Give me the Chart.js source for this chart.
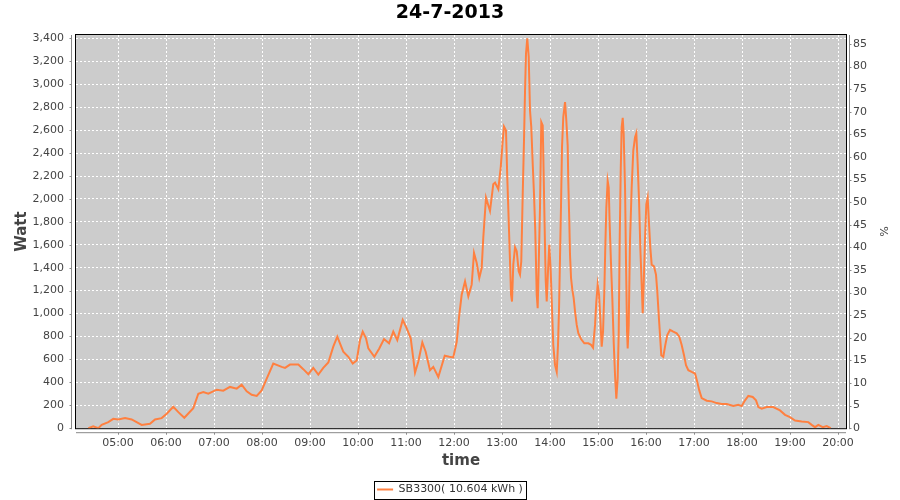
<!DOCTYPE html>
<html lang="en">
<head>
    <meta charset="UTF-8">
    <title>24-7-2013</title>
    <script src="https://cdn.jsdelivr.net/npm/chart.js"></script>
    <style>
        html, body {
            margin: 0;
            padding: 0;
            background: #ffffff;
        }
        #wrap {
            width: 900px;
            height: 500px;
        }
    </style>
</head>
<body>
    <div id="wrap">
        <canvas id="myChart" width="900" height="500"></canvas>
    </div>

    <script>
        // minutes since midnight
        const times = [
            262.9, 269.1, 275.4, 279.6, 287.9, 294.1, 300.4, 308.8, 317.1, 329.6,
            340, 346.3, 354.6, 360.9, 369.1, 375.4, 382.9, 394.1, 400.4, 406.6,
            412.9, 423.4, 431.6, 440, 448.4, 454.6, 460.9, 467.1, 473.4, 479.6,
            485.9, 494.1, 504.6, 508.8, 515, 525.4, 531.6, 537.9, 544.1, 550.4,
            556.6, 562.9, 569.1, 574.1, 581.6, 587.9, 593.4, 598.4, 602.5, 605.9,
            610, 612.9, 620.4, 626.6, 632.5, 638.8, 644.1, 649.1, 655.9, 660.9,
            665.9, 671.3, 675.4, 680.4, 684.6, 690, 694.1, 700.4, 708.4, 714.1,
            719.1, 723.4, 726.6, 729.6, 733.8, 737.9, 742.1, 745, 748.4, 751.6,
            754.6, 756.6, 760, 765, 769.1, 771.3, 775.4, 778.4, 780.9, 782.5,
            785, 786.6, 788.4, 790, 791.3, 792.5, 794.1, 796.3, 798.4, 800.9,
            802.5, 804.1, 805.9, 807.5, 808.8, 810, 811.6, 813.4, 815, 816.6,
            818.4, 820, 821.6, 823.4, 824.6, 825.9, 827.5, 829.1, 830.9, 831.6,
            833.4, 834.6, 835.9, 837.5, 839.1, 840.9, 842.5, 844.1, 846.3, 848.4,
            850, 851.3, 852.5, 853.8, 855, 856.6, 858.8, 860.4, 862.1, 862.9,
            864.1, 865, 866.3, 867.9, 869.6, 871.3, 873.4, 875.4, 878.8, 882.9,
            887.9, 891.3, 893.8, 896.3, 897.9, 899.6, 901.3, 902.9, 904.6, 906.3,
            907.9, 909.1, 910.4, 912.1, 913.4, 914.6, 916.3, 917.9, 919.6, 921.3,
            922.9, 924.6, 925.9, 927.1, 928.4, 929.6, 930.9, 932.1, 933.8, 935,
            936.3, 937.1, 938.4, 940, 942.1, 944.1, 946.3, 947.9, 949.6, 951.3,
            952.9, 954.6, 955.9, 957.1, 958.8, 960.4, 962.1, 963.8, 965.4, 967.1,
            970, 972.5, 974.1, 975.9, 977.5, 979.1, 981.6, 984.1, 986.6, 990,
            994.1, 998.4, 1001.6, 1004.6, 1007.5, 1010, 1012.9, 1017.1, 1021.3, 1024.1,
            1026.6, 1029.6, 1035.9, 1042.1, 1048.4, 1054.6, 1060.9, 1069.1, 1075.4, 1079.6,
            1083.8, 1087.9, 1093.4, 1097.5, 1100.4, 1104.6, 1110.9, 1119.1, 1127.5, 1133.8,
            1140, 1146.3, 1154.6, 1162.9, 1167.1, 1171.3, 1175.4, 1180.9, 1185.9, 1190.9
        ];

        // SB3300 output in Watt
        const watts = [
            0, 17, 0, 29, 53, 82, 76, 88, 76, 29,
            38, 76, 88, 126, 187, 140, 91, 175, 301, 316,
            301, 336, 327, 360, 345, 380, 322, 292, 281, 330,
            433, 564, 535, 526, 555, 555, 515, 471, 526, 468,
            526, 573, 711, 798, 667, 623, 564, 591, 769, 842,
            784, 696, 623, 696, 778, 740, 842, 769, 945, 871,
            784, 485, 582, 748, 667, 506, 535, 447, 632, 623,
            617, 754, 988, 1164, 1281, 1149, 1252, 1529, 1441, 1310,
            1397, 1661, 2011, 1895, 2129, 2143, 2085, 2275, 2509, 2632,
            2597, 2187, 1807, 1456, 1164, 1105, 1427, 1579, 1544, 1368,
            1339, 1456, 2041, 2509, 2947, 3269, 3401, 3240, 2772, 2626,
            2304, 2041, 1719, 1164, 1047, 1427, 1924, 2670, 2640, 2392,
            1719, 1295, 1105, 1368, 1602, 1368, 1047, 725, 550, 491,
            725, 1047, 1485, 1953, 2450, 2713, 2845, 2684, 2465, 2143,
            1807, 1515, 1310, 1208, 1135, 1018, 901, 828, 778, 740,
            740, 727, 702, 901, 1105, 1252, 1164, 959, 711, 842,
            1193, 1573, 1924, 2158, 2099, 1778, 1427, 1135, 754, 462,
            257, 433, 842, 1632, 2246, 2626, 2708, 2567, 2099, 1456,
            842, 696, 901, 1632, 2099, 2421, 2538, 2573, 2304, 1982,
            1573, 1252, 1003, 1252, 1661, 1953, 2011, 1778, 1573, 1427,
            1412, 1339, 1193, 988, 813, 637, 623, 725, 813, 857,
            842, 828, 798, 725, 637, 550, 506, 491, 477, 404,
            330, 263, 240, 234, 219, 211, 211, 193, 205, 193,
            243, 281, 272, 243, 184, 170, 184, 184, 155, 117,
            96, 67, 58, 53, 29, 9, 29, 9, 18, 0
        ];

        const hourTicks = [300, 360, 420, 480, 540, 600, 660, 720, 780, 840, 900, 960, 1020, 1080, 1140, 1200];
        const wattTicks = [0, 200, 400, 600, 800, 1000, 1200, 1400, 1600, 1800, 2000, 2200, 2400, 2600, 2800, 3000, 3200, 3400];
        const pctTicks = [0, 5, 10, 15, 20, 25, 30, 35, 40, 45, 50, 55, 60, 65, 70, 75, 80, 85];

        const seriesLabel = 'SB3300( 10.604 kWh )';
        const chartTitle = '24-7-2013';

        Chart.defaults.font.family = "'DejaVu Sans', sans-serif";
        Chart.defaults.font.size = 11;
        Chart.defaults.color = '#444444';

        const points = times.map((t, i) => ({ x: t, y: watts[i] }));

        function hhmm(v) {
            const h = Math.floor(v / 60);
            const m = Math.round(v % 60);
            return String(h).padStart(2, '0') + ':' + String(m).padStart(2, '0');
        }

        // grey plot, black frame, offset axis lines, boxed legend
        const framePlugin = {
            id: 'frame',
            beforeDraw(chart) {
                const { ctx, chartArea: a } = chart;
                ctx.save();
                ctx.fillStyle = '#cccccc';
                ctx.fillRect(a.left, a.top, a.right - a.left, a.bottom - a.top);
                ctx.restore();
            },
            beforeDatasetsDraw(chart) {
                const { ctx, chartArea: a, scales } = chart;
                ctx.save();
                ctx.strokeStyle = '#000000';
                ctx.lineWidth = 1;
                ctx.strokeRect(a.left - 0.5, a.top - 0.5, a.right - a.left + 1, a.bottom - a.top + 1);

                ctx.strokeStyle = '#888888';
                ctx.beginPath();
                // left axis
                const lx = a.left - 4.5;
                ctx.moveTo(lx, a.top); ctx.lineTo(lx, a.bottom + 1);
                scales.y.ticks.forEach(t => {
                    const py = Math.round(scales.y.getPixelForValue(t.value)) + 0.5;
                    ctx.moveTo(lx - 2, py); ctx.lineTo(lx, py);
                });
                // right axis
                const rx = a.right + 3.5;
                ctx.moveTo(rx, a.top); ctx.lineTo(rx, a.bottom + 1);
                scales.y1.ticks.forEach(t => {
                    const py = Math.round(scales.y1.getPixelForValue(t.value)) + 0.5;
                    ctx.moveTo(rx, py); ctx.lineTo(rx + 2, py);
                });
                // bottom axis
                const by = a.bottom + 4.5;
                ctx.moveTo(a.left, by); ctx.lineTo(a.right, by);
                scales.x.ticks.forEach(t => {
                    const px = Math.round(scales.x.getPixelForValue(t.value)) + 0.5;
                    ctx.moveTo(px, by); ctx.lineTo(px, by + 2);
                });
                ctx.stroke();
                ctx.restore();
            },
            afterDraw(chart) {
                const lg = chart.legend;
                if (!lg || !lg.legendHitBoxes || !lg.legendHitBoxes.length) return;
                const hb = lg.legendHitBoxes[0];
                const { ctx } = chart;
                ctx.save();
                ctx.strokeStyle = '#000000';
                ctx.lineWidth = 1;
                const x0 = Math.round(hb.left - 3) + 0.5;
                const y0 = Math.round(hb.top - 3.5) + 0.5;
                const w = Math.round(hb.width + 6);
                const h = Math.round(hb.height + 7);
                ctx.strokeRect(x0, y0, w, h);
                ctx.restore();
            }
        };

        const ctx = document.getElementById('myChart').getContext('2d');

        const myChart = new Chart(ctx, {
            type: 'line',
            data: {
                datasets: [{
                    label: seriesLabel,
                    data: points,
                    yAxisID: 'y',
                    borderColor: '#ff8040',
                    backgroundColor: '#ff8040',
                    borderWidth: 2,
                    pointRadius: 0,
                    tension: 0,
                    fill: false
                }]
            },
            options: {
                responsive: false,
                animation: false,
                events: [],
                layout: {
                    padding: { top: 0, left: 0, right: 0, bottom: -5 }
                },
                plugins: {
                    title: {
                        display: true,
                        text: chartTitle,
                        color: '#000000',
                        font: { size: 19, weight: 'bold' },
                        padding: { top: 2, bottom: 10.2 }
                    },
                    legend: {
                        position: 'bottom',
                        labels: {
                            usePointStyle: true,
                            pointStyle: 'line',
                            pointStyleWidth: 16,
                            color: '#333333',
                            font: { size: 11 },
                            padding: 10
                        }
                    },
                    tooltip: { enabled: false }
                },
                scales: {
                    x: {
                        type: 'linear',
                        min: 247.5,
                        max: 1210,
                        afterBuildTicks: s => { s.ticks = hourTicks.map(v => ({ value: v })); },
                        afterFit: s => { s.height = 45.8; },
                        ticks: {
                            autoSkip: false,
                            maxRotation: 0,
                            padding: 8,
                            callback: v => hhmm(v)
                        },
                        grid: {
                            color: '#ffffff',
                            lineWidth: 1,
                            drawTicks: false
                        },
                        border: { display: false, dash: [2, 2] },
                        title: {
                            display: true,
                            text: 'time',
                            font: { size: 15, weight: 'bold' },
                            padding: { top: 0, bottom: 3.8 }
                        }
                    },
                    y: {
                        position: 'left',
                        min: 0,
                        max: 3430,
                        afterBuildTicks: s => { s.ticks = wattTicks.map(v => ({ value: v })); },
                        afterFit: s => { s.width = 76; },
                        ticks: {
                            autoSkip: false,
                            padding: 12,
                            callback: v => v.toLocaleString('en-US')
                        },
                        grid: {
                            color: '#ffffff',
                            lineWidth: 1,
                            drawTicks: false
                        },
                        border: { display: false, dash: [2, 2] },
                        title: {
                            display: true,
                            text: 'Watt',
                            font: { size: 15, weight: 'bold' },
                            padding: { top: 13, bottom: 0 }
                        }
                    },
                    y1: {
                        position: 'right',
                        min: 0,
                        max: 87,
                        afterBuildTicks: s => { s.ticks = pctTicks.map(v => ({ value: v })); },
                        afterFit: s => { s.width = 54; },
                        ticks: {
                            autoSkip: false,
                            padding: 7
                        },
                        grid: {
                            drawOnChartArea: false,
                            drawTicks: false
                        },
                        border: { display: false },
                        title: {
                            display: true,
                            text: '%',
                            font: { size: 11 },
                            padding: { top: 11, bottom: 0 }
                        }
                    }
                }
            },
            plugins: [framePlugin]
        });
    </script>
</body>
</html>
